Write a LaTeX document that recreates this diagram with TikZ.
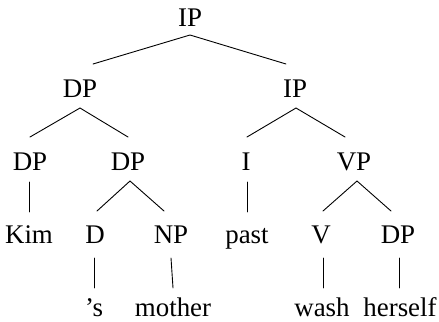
\documentclass[tikz,border=0pt]{standalone}
\usepackage{fontspec}
\setmainfont{Liberation Serif}
\newfontfamily\treefont{Liberation Serif}
\usetikzlibrary{calc}
\begin{document}
\begin{tikzpicture}[x=1bp,y=-1bp,
  lbl/.style={anchor=base,inner sep=0pt,outer sep=0pt,font=\treefont\fontsize{27}{31}\selectfont},
  edge/.style={line width=0.9bp,line cap=round}]
\useasboundingbox (0,0) rectangle (439,321);
% row 1
\node[lbl] (ip0) at (190,26) {IP};
% row 2
\node[lbl] (dp1) at (80,97) {DP};
\node[lbl] (ip1) at (295,97) {IP};
% row 3
\node[lbl] (dp2) at (30,170) {DP};
\node[lbl] (dp3) at (128,170) {DP};
\node[lbl] (i)   at (246,170) {I};
\node[lbl] (vp)  at (354,170) {VP};
% row 4
\node[lbl] (kim)  at (29,243) {Kim};
\node[lbl] (d)    at (95,243) {D};
\node[lbl] (np)   at (171,243) {NP};
\node[lbl] (past) at (247,243) {past};
\node[lbl] (v)    at (321,243) {V};
\node[lbl] (dp4)  at (398,243) {DP};
% row 5
\node[lbl] (s)      at (94,316) {’s};
\node[lbl] (mother) at (173,316) {mother};
\node[lbl] (wash)   at (322,316) {wash};
\node[lbl] (herself) at (400,316) {herself};
% edges
\draw[edge] ($(dp1.base)+(13,-33)$) -- ($(ip0.base)+(0,9)$) -- ($(ip1.base)+(-9,-33)$);
\draw[edge] ($(dp2.base)+(0,-33)$) -- ($(dp1.base)+(0,11)$) -- ($(dp3.base)+(0,-33)$);
\draw[edge] ($(i.base)+(1,-33)$) -- ($(ip1.base)+(1,11)$) -- ($(vp.base)+(-9,-33)$);
\draw[edge] ($(dp2.base)+(-1,12)$) -- ($(kim.base)+(0,-31)$);
\draw[edge] ($(d.base)+(2,-32)$) -- ($(dp3.base)+(2,11)$) -- ($(np.base)+(-7,-32)$);
\draw[edge] ($(i.base)+(1,12)$) -- ($(past.base)+(0,-31)$);
\draw[edge] ($(v.base)+(2,-32)$) -- ($(vp.base)+(3,11)$) -- ($(dp4.base)+(-7,-32)$);
\draw[edge] ($(d.base)+(-1,15)$) -- ($(s.base)+(0,-28)$);
\draw[edge] ($(np.base)+(0,15)$) -- ($(mother.base)+(0,-28)$);
\draw[edge] ($(v.base)+(2,15)$) -- ($(wash.base)+(1,-28)$);
\draw[edge] ($(dp4.base)+(1,15)$) -- ($(herself.base)+(-1,-28)$);
\end{tikzpicture}
\end{document}
